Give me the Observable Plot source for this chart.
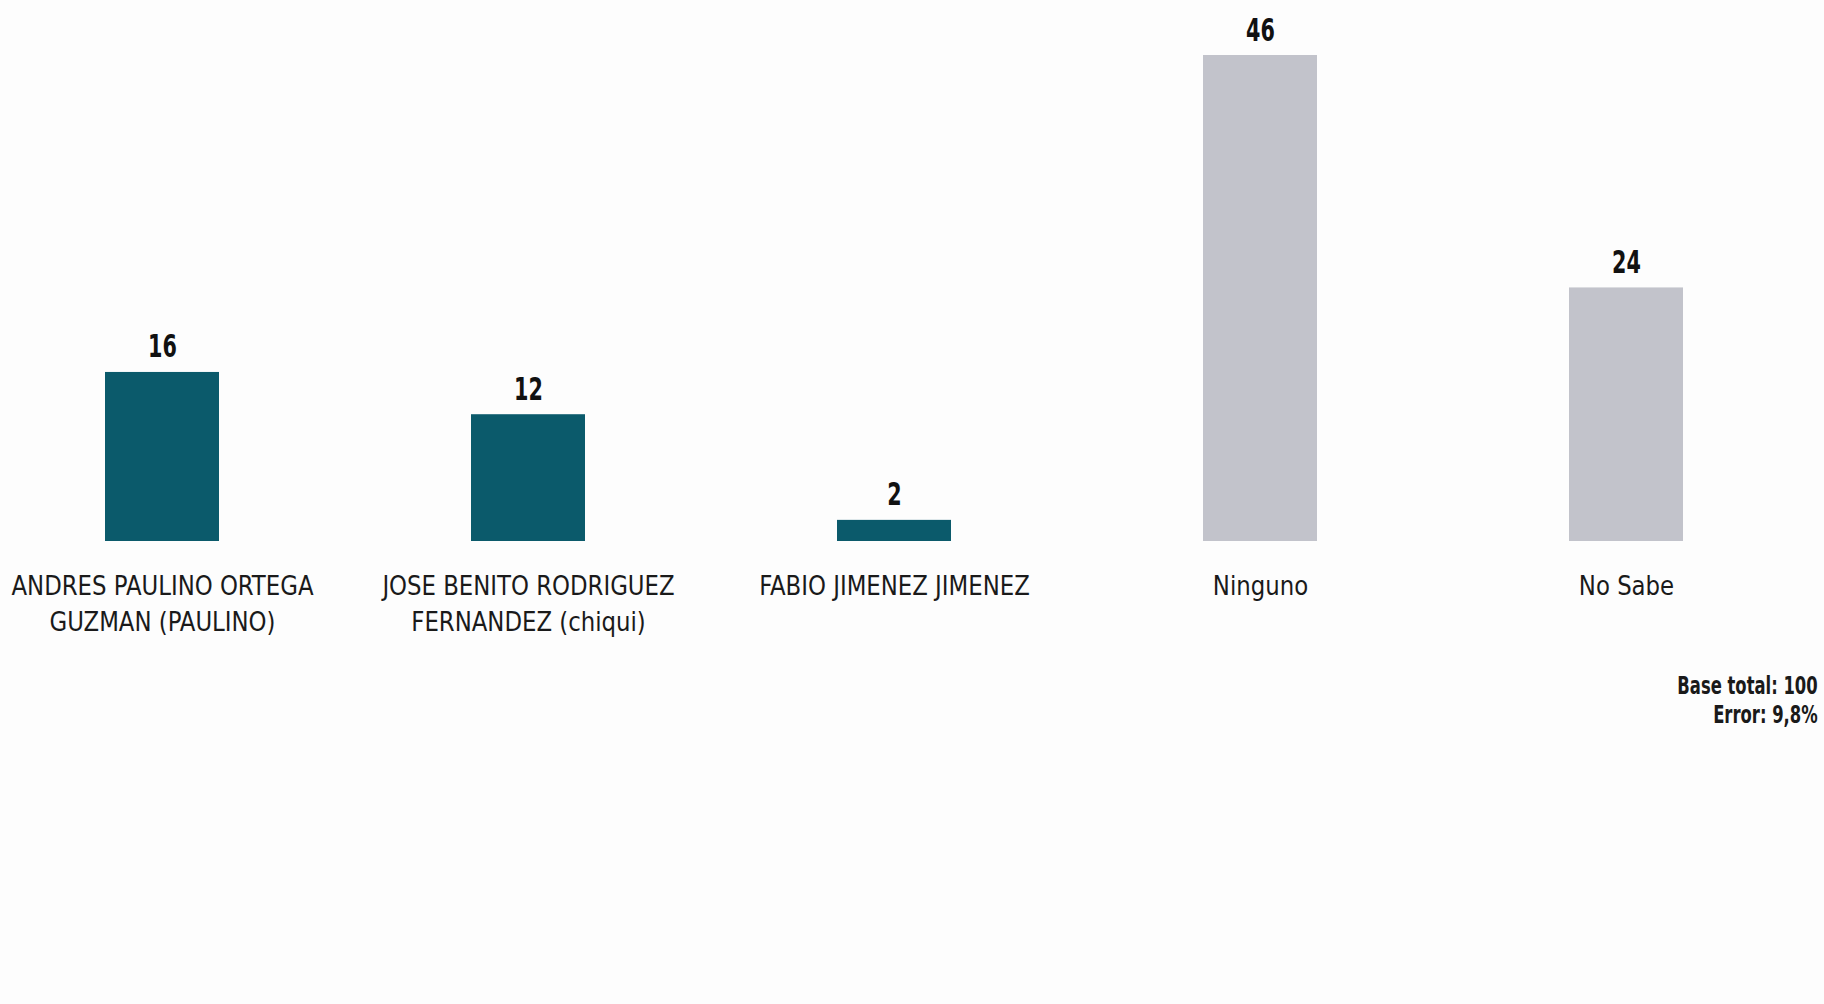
<!DOCTYPE html>
<html>
<head>
<meta charset="utf-8">
<script src="https://cdn.jsdelivr.net/npm/d3@7"></script>
<script src="https://cdn.jsdelivr.net/npm/@observablehq/plot@0.6"></script>
<style>
  html, body { margin: 0; padding: 0; background: #fdfdfd; }
  #wrap { position: relative; width: 1824px; height: 1004px; overflow: hidden; }
  #note {
    position: absolute; right: 6px; top: 672px;
    font-family: "Liberation Sans Narrow", "DejaVu Sans Condensed", sans-serif;
    font-weight: bold; font-size: 24px; line-height: 29px; color: #1a1a1a;
    text-align: right; transform: scaleX(0.76); transform-origin: right top;
    white-space: nowrap;
  }
</style>
</head>
<body>
<div id="wrap">
  <div id="chart"></div>
  <div id="note">Base total: 100<br>Error: 9,8%</div>
</div>
<script>
const categories = [
  "ANDRES PAULINO ORTEGA\nGUZMAN (PAULINO)",
  "JOSE BENITO RODRIGUEZ\nFERNANDEZ (chiqui)",
  "FABIO JIMENEZ JIMENEZ",
  "Ninguno",
  "No Sabe"
];
const values = [16, 12, 2, 46, 24];
const groups = ["candidato", "candidato", "candidato", "otro", "otro"];

const data = categories.map((c, i) => ({ category: c, value: values[i], group: groups[i] }));

const font = "'Liberation Sans Narrow', 'DejaVu Sans Condensed', sans-serif";

const chart = Plot.plot({
  width: 1824,
  height: 1004,
  marginTop: 55,
  marginBottom: 463,
  marginLeft: 103.5,
  marginRight: 140.5,
  style: { background: "#fdfdfd", fontFamily: font, overflow: "visible" },
  x: { domain: categories, paddingInner: 0.689, paddingOuter: 0, axis: null },
  y: { domain: [0, 46], axis: null },
  color: { domain: ["candidato", "otro"], range: ["#0b5a6b", "#c2c3cb"] },
  marks: [
    Plot.barY(data, { x: "category", y: "value", fill: "group" }),
    Plot.text(data, {
      x: "category", y: "value", text: d => String(d.value),
      lineAnchor: "bottom", dy: -15,
      fontSize: 32, fontWeight: "bold", fill: "#111"
    }),
    Plot.text(data, {
      x: "category", y: () => 0, text: "category",
      lineAnchor: "top", dy: 28, lineHeight: 1.33,
      fontSize: 27, fill: "#1a1a1a"
    })
  ]
});
// condense the glyphs horizontally (narrow typeface not available)
const textGroups = chart.querySelectorAll('g[aria-label="text"]');
const squeeze = [0.72, 0.94];
textGroups.forEach((g, k) => {
  g.querySelectorAll("text").forEach(t => {
    const tr = t.getAttribute("transform") || "";
    t.setAttribute("transform", tr + ` scale(${squeeze[k]},1)`);
  });
});
document.getElementById("chart").appendChild(chart);
</script>
</body>
</html>
